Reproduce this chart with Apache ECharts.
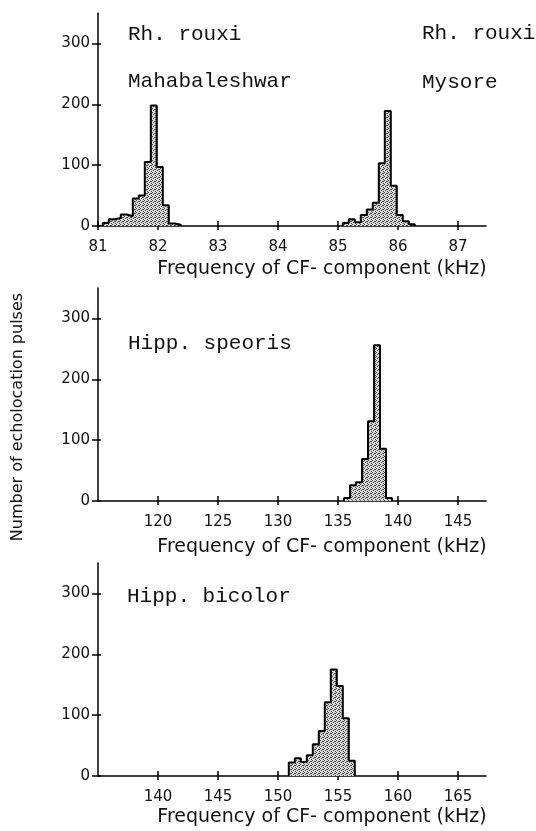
<!DOCTYPE html>
<html><head><meta charset="utf-8">
<script src="https://cdn.jsdelivr.net/npm/echarts@6/dist/echarts.min.js"></script>
<style>html,body{margin:0;padding:0;background:#fff}#c{width:536px;height:831px}</style>
</head><body><div id="c"></div>
<script>
// ---------- data ----------
const yTicks = [0, 100, 200, 300];
const p1Ticks = [81, 82, 83, 84, 85, 86, 87];
const p2Ticks = [120, 125, 130, 135, 140, 145];
const p3Ticks = [140, 145, 150, 155, 160, 165];

// Rh. rouxi, Mahabaleshwar: lower bin edges (kHz) and counts, bin width 0.1 kHz
const mahaEdges  = [81.08, 81.18, 81.28, 81.38, 81.48, 81.58, 81.68, 81.78, 81.88, 81.98, 82.08, 82.18, 82.28];
const mahaCounts = [5, 11, 13, 19, 16, 45, 50, 105, 198, 97, 34, 4, 2];
const mahaWidth = 0.1;

// Rh. rouxi, Mysore
const mysEdges  = [85.08, 85.18, 85.28, 85.38, 85.48, 85.58, 85.68, 85.78, 85.88, 85.98, 86.08, 86.18];
const mysCounts = [5, 11, 6, 18, 27, 38, 103, 189, 66, 18, 8, 3];
const mysWidth = 0.1;

// Hipp. speoris, bin width 0.5 kHz
const speEdges  = [135.5, 136.0, 136.5, 137.0, 137.5, 138.0, 138.5, 139.0];
const speCounts = [5, 26, 31, 69, 131, 256, 86, 5];
const speWidth = 0.5;

// Hipp. bicolor, bin width 0.5 kHz
const bicEdges  = [150.9, 151.4, 151.9, 152.4, 152.9, 153.4, 153.9, 154.4, 154.9, 155.4, 155.9];
const bicCounts = [22, 29, 23, 34, 52, 74, 121, 175, 148, 95, 25];
const bicWidth = 0.5;

const xTitle = 'Frequency of CF- component (kHz)';
const yTitle = 'Number of echolocation pulses';

// ---------- build ----------
function histPoints(edges, counts, w) {
  const pts = [[edges[0], 0]];
  edges.forEach((e, i) => pts.push([e, counts[i]]));
  pts.push([edges[edges.length - 1] + w, 0]);
  return pts;
}

// stipple pattern
const pc = document.createElement('canvas');
pc.width = 4; pc.height = 4;
const pctx = pc.getContext('2d');
pctx.fillStyle = '#dadada'; pctx.fillRect(0, 0, 4, 4);
pctx.fillStyle = '#404040';
[[0, 0], [2, 1], [1, 2], [3, 3], [3, 1]].forEach(([a, b]) => pctx.fillRect(a, b, 1, 1));
const stipple = { image: pc, repeat: 'repeat' };

const panels = [
  { top: 13,  min: 81,  max: 81 + 388 / 60, ticks: p1Ticks },
  { top: 288, min: 115, max: 115 + 388 / 12, ticks: p2Ticks },
  { top: 563, min: 135, max: 135 + 388 / 12, ticks: p3Ticks }
];

const AX = { color: '#000', width: 1.5 };
const labelFont = { color: '#111', fontSize: 15, fontFamily: 'DejaVu Sans' };

const grid = [], xAxis = [], yAxis = [];
panels.forEach((p, g) => {
  grid.push({ left: 98, top: p.top, width: 388, height: 213 });
  xAxis.push({
    gridIndex: g, type: 'value', min: p.min, max: p.max, position: 'bottom',
    axisLine: { onZero: false, lineStyle: AX },
    axisTick: { show: true, customValues: p.ticks, length: 4, lineStyle: AX },
    axisLabel: Object.assign({ customValues: p.ticks, margin: 14 }, labelFont),
    splitLine: { show: false }
  });
  xAxis.push({
    gridIndex: g, type: 'value', min: p.min, max: p.max, position: 'bottom',
    axisLine: { show: false },
    axisTick: { show: true, inside: true, customValues: p.ticks, length: 5, lineStyle: AX },
    axisLabel: { show: false }, splitLine: { show: false }
  });
  yAxis.push({
    gridIndex: g, type: 'value', min: 0, max: 350, position: 'left',
    axisLine: { show: true, onZero: false, lineStyle: AX },
    axisTick: { show: true, customValues: yTicks, length: 6, lineStyle: AX },
    axisLabel: Object.assign({ customValues: yTicks, margin: 8 }, labelFont),
    splitLine: { show: false }
  });
  yAxis.push({
    gridIndex: g, type: 'value', min: 0, max: 350, position: 'left',
    axisLine: { show: false },
    axisTick: { show: true, inside: true, customValues: yTicks, length: 3, lineStyle: AX },
    axisLabel: { show: false }, splitLine: { show: false }
  });
});

function histSeries(name, g, edges, counts, w) {
  return {
    name, type: 'line', xAxisIndex: 2 * g, yAxisIndex: 2 * g,
    step: 'end', symbol: 'none', silent: true,
    data: histPoints(edges, counts, w),
    lineStyle: { color: '#000', width: 2 },
    areaStyle: { color: stipple, opacity: 1 },
    z: 3
  };
}

const mono = 'Liberation Mono, Courier New, monospace';
function label(text, x, y) {
  return { type: 'text', x, y, style: { text, align: 'left', verticalAlign: 'middle', fontSize: 21, fontFamily: mono, fill: '#111' } };
}
function xt(y) {
  return { type: 'text', x: 322, y, style: { text: xTitle, align: 'center', verticalAlign: 'middle', fontSize: 19, fontFamily: 'DejaVu Sans', fill: '#111' } };
}

const chart = echarts.init(document.getElementById('c'), null, { renderer: 'canvas' });
chart.setOption({
  backgroundColor: '#fff',
  animation: false,
  grid, xAxis, yAxis,
  series: [
    histSeries('Rh. rouxi Mahabaleshwar', 0, mahaEdges, mahaCounts, mahaWidth),
    histSeries('Rh. rouxi Mysore', 0, mysEdges, mysCounts, mysWidth),
    histSeries('Hipp. speoris', 1, speEdges, speCounts, speWidth),
    histSeries('Hipp. bicolor', 2, bicEdges, bicCounts, bicWidth)
  ],
  graphic: [
    label('Rh. rouxi', 128, 34),
    label('Mahabaleshwar', 128, 81),
    label('Rh. rouxi', 422, 33),
    label('Mysore', 422, 82),
    label('Hipp. speoris', 128, 343),
    label('Hipp. bicolor', 127, 596),
    xt(269), xt(547), xt(817),
    { type: 'text', x: 18, y: 417, rotation: Math.PI / 2,
      style: { text: yTitle, align: 'center', verticalAlign: 'middle', fontSize: 16, fontFamily: 'DejaVu Sans', fill: '#111' } }
  ]
});
</script>
</body></html>
